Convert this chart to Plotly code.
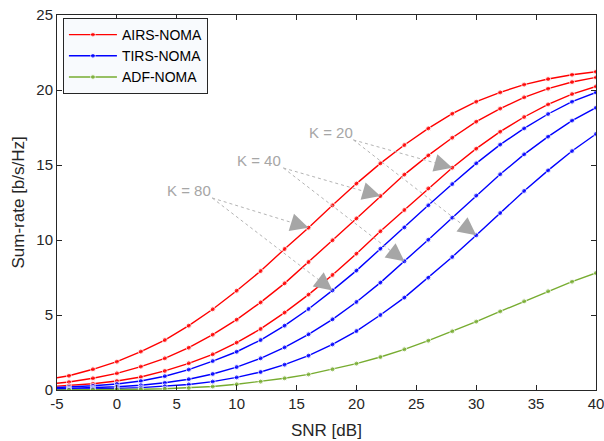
import plotly.graph_objects as go

# ---------------- data ----------------
snr = [-5, -4, -2, 0, 2, 4, 6, 8, 10, 12, 14, 16, 18, 20, 22, 24, 26, 28, 30, 32, 34, 36, 38, 40]

airs_k80 = [0.82, 0.95, 1.38, 1.89, 2.56, 3.33, 4.29, 5.38, 6.62, 7.93, 9.40, 10.82, 12.31, 13.76,
            15.11, 16.33, 17.44, 18.42, 19.22, 19.84, 20.36, 20.73, 21.02, 21.22]
airs_k40 = [0.45, 0.53, 0.78, 1.11, 1.56, 2.11, 2.82, 3.69, 4.69, 5.84, 7.11, 8.53, 9.98, 11.44,
            12.93, 14.36, 15.64, 16.82, 17.89, 18.76, 19.51, 20.09, 20.53, 20.84]
airs_k20 = [0.26, 0.30, 0.42, 0.60, 0.87, 1.27, 1.78, 2.38, 3.16, 4.07, 5.16, 6.36, 7.67, 9.09,
            10.58, 12.00, 13.44, 14.82, 16.09, 17.22, 18.20, 19.04, 19.73, 20.24]
tirs_k80 = [0.17, 0.20, 0.28, 0.40, 0.60, 0.92, 1.36, 1.93, 2.55, 3.33, 4.29, 5.40, 6.64, 7.96,
            9.42, 10.84, 12.31, 13.73, 15.11, 16.36, 17.44, 18.40, 19.22, 19.84]
tirs_k40 = [0.08, 0.10, 0.15, 0.22, 0.32, 0.48, 0.72, 1.07, 1.53, 2.11, 2.84, 3.71, 4.71, 5.87,
            7.16, 8.58, 10.02, 11.49, 12.96, 14.38, 15.71, 16.89, 17.96, 18.82]
tirs_k20 = [0.04, 0.05, 0.08, 0.11, 0.16, 0.24, 0.37, 0.56, 0.84, 1.20, 1.69, 2.29, 3.04, 3.93,
            5.00, 6.16, 7.49, 8.87, 10.31, 11.80, 13.27, 14.64, 15.93, 17.07]
adf = [0.01, 0.01, 0.02, 0.03, 0.05, 0.08, 0.13, 0.23, 0.38, 0.56, 0.78, 1.04, 1.38, 1.76,
       2.20, 2.71, 3.29, 3.91, 4.56, 5.24, 5.91, 6.58, 7.22, 7.80]

x_ticks = [-5, 0, 5, 10, 15, 20, 25, 30, 35, 40]
y_ticks = [0, 5, 10, 15, 20, 25]

# annotation groups: label, series pointed at and SNR at which arrow tips land
k_labels = ["K = 20", "K = 40", "K = 80"]
k_targets = [
    (airs_k20, 28, tirs_k20, 30),
    (airs_k40, 22, tirs_k40, 24),
    (airs_k80, 16, tirs_k80, 18),
]

# ---------------- style ----------------
RED = "#ff0000"
BLUE = "#0000ff"
GREEN = "#77ac30"
GRAY = "#a6a6a6"
AX = "#262626"
FONT = "Liberation Sans, Arial, sans-serif"

W, H = 604, 441
ML, MR, MT, MB = 57, 8, 15, 51
XR = [-5, 40]
YR = [0, 25]
pxx = (W - ML - MR) / (XR[1] - XR[0])
pxy = (H - MT - MB) / (YR[1] - YR[0])

fig = go.Figure()
msize = [0] + [5] * (len(snr) - 1)


def add(y, color, name, show):
    fig.add_trace(go.Scatter(
        x=snr, y=y, mode="lines+markers", name=name, showlegend=show,
        line=dict(color=color, width=1.4),
        marker=dict(color=color, size=msize, symbol="circle"),
    ))


add(airs_k80, RED, "AIRS-NOMA", True)
add(airs_k40, RED, "AIRS-NOMA", False)
add(airs_k20, RED, "AIRS-NOMA", False)
add(tirs_k80, BLUE, "TIRS-NOMA", True)
add(tirs_k40, BLUE, "TIRS-NOMA", False)
add(tirs_k20, BLUE, "TIRS-NOMA", False)
add(adf, GREEN, "ADF-NOMA", True)

# label text positions (layout) and line origin offsets
label_pos = [(17.85, 17.2), (11.9, 15.33), (6.0, 13.33)]
origin = [(19.75, 16.67), (13.9, 14.8), (7.96, 12.8)]

shapes = []
annotations = []
for lab, (tx, ty), (ox, oy), (s1, x1, s2, x2) in zip(k_labels, label_pos, origin, k_targets):
    annotations.append(dict(x=tx, y=ty, xref="x", yref="y", text=lab, showarrow=False,
                            font=dict(family=FONT, size=15, color=GRAY)))
    for series, xs in ((s1, x1), (s2, x2)):
        tipx = xs
        tipy = series[snr.index(xs)]
        shapes.append(dict(type="line", xref="x", yref="y", x0=ox, y0=oy, x1=tipx, y1=tipy,
                           line=dict(color="#b4b4b4", width=1, dash="dot"), layer="above"))
        dxp = (tipx - ox) * pxx
        dyp = -(tipy - oy) * pxy
        L = (dxp ** 2 + dyp ** 2) ** 0.5
        seg = 9
        annotations.append(dict(x=tipx, y=tipy, xref="x", yref="y", text="",
                                showarrow=True, arrowhead=2, arrowsize=3.6, arrowwidth=1,
                                arrowcolor=GRAY, ax=-dxp / L * seg, ay=-dyp / L * seg,
                                standoff=0))

# axis titles as annotations in paper-pixel positions
annotations.append(dict(text="SNR [dB]", xref="paper", yref="paper", x=0.5, y=-(430 - (H - MB)) / (H - MT - MB),
                        showarrow=False, font=dict(family=FONT, size=17, color=AX),
                        xanchor="center", yanchor="middle"))
annotations.append(dict(text="Sum-rate [b/s/Hz]", xref="paper", yref="paper",
                        x=-(ML - 18) / (W - ML - MR), y=0.5, textangle=-90,
                        showarrow=False, font=dict(family=FONT, size=17, color=AX),
                        xanchor="center", yanchor="middle"))

fig.update_layout(
    width=W, height=H,
    margin=dict(l=ML, r=MR, t=MT, b=MB),
    paper_bgcolor="white", plot_bgcolor="white",
    font=dict(family=FONT, size=14, color=AX),
    showlegend=True,
    legend=dict(x=0.011, y=0.992, xanchor="left", yanchor="top",
                bgcolor="#f8fafd", bordercolor=AX, borderwidth=1,
                font=dict(family=FONT, size=14, color="#000000"),
                itemwidth=48, tracegroupgap=0),
    shapes=shapes,
    annotations=annotations,
)
fig.update_xaxes(range=XR, tickvals=x_ticks, ticktext=[str(v) for v in x_ticks],
                 showgrid=False, zeroline=False, showline=True, linecolor=AX, linewidth=1,
                 mirror="ticks", ticks="inside", ticklen=5, tickcolor=AX,
                 automargin=False, ticklabeloverflow="allow", tickfont=dict(size=15))
fig.update_yaxes(range=YR, tickvals=y_ticks, ticktext=[str(v) for v in y_ticks],
                 showgrid=False, zeroline=False, showline=True, linecolor=AX, linewidth=1,
                 mirror="ticks", ticks="inside", ticklen=5, tickcolor=AX,
                 automargin=False, ticklabeloverflow="allow", tickfont=dict(size=15))

fig.write_html("out.html")
